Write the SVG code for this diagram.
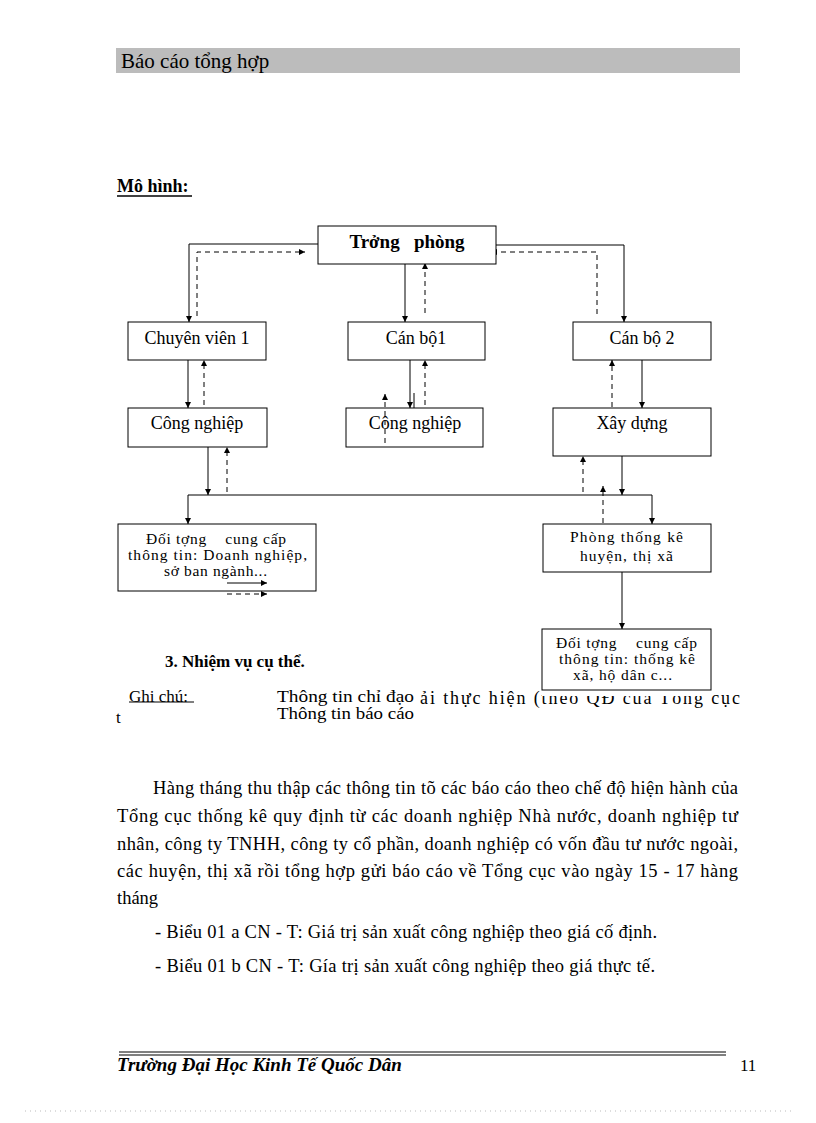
<svg xmlns="http://www.w3.org/2000/svg" width="816" height="1123" viewBox="0 0 816 1123">
<defs>
<marker id="ah" viewBox="0 0 8 8" refX="8" refY="4" markerWidth="6" markerHeight="6" markerUnits="userSpaceOnUse" orient="auto">
<path d="M0,0 L8,4 L0,8 z" fill="#000"/>
</marker>
</defs>
<style>
.box{fill:#fff;stroke:#000;stroke-width:1}
.t{font-family:"Liberation Serif","Times New Roman",serif;fill:#000}
.lbl{font-size:18px;text-anchor:middle}
.sm{font-size:15.5px}
.body{font-size:18.5px}
.s{fill:none;stroke:#000;stroke-width:1}
.d{fill:none;stroke:#000;stroke-width:1;stroke-dasharray:5 4}
</style>
<rect width="816" height="1123" fill="#fff"/>

<g id="header">
<rect x="116" y="48" width="624" height="25" fill="#bcbcbc"/>
<text class="t" x="121" y="68" font-size="21">Báo cáo tổng hợp</text>
</g>

<g id="title">
<text class="t" x="117" y="192" font-size="18" font-weight="bold">Mô hình:</text>
<line x1="117" y1="196" x2="192" y2="196" stroke="#000" stroke-width="1.3"/>
</g>

<g id="connectors">
<path class="s" d="M318,244 H189 V322" marker-end="url(#ah)"/>
<path class="d" d="M197,316 V252 H305" marker-end="url(#ah)"/>
<path class="s" d="M405,264 V322" marker-end="url(#ah)"/>
<path class="d" d="M425,313 V263" marker-end="url(#ah)"/>
<path class="s" d="M496,245 H624 V322" marker-end="url(#ah)"/>
<path class="d" d="M597,314 V252 H491" marker-end="url(#ah)"/>
<path class="s" d="M188,360 V408" marker-end="url(#ah)"/>
<path class="d" d="M204,405 V360" marker-end="url(#ah)"/>
<path class="s" d="M410,360 V408" marker-end="url(#ah)"/>
<path class="d" d="M425,405 V360" marker-end="url(#ah)"/>
<path class="s" d="M414,393 V408"/>
<path class="s" d="M642,360 V408" marker-end="url(#ah)"/>
<path class="d" d="M612,407 V360" marker-end="url(#ah)"/>
<path class="s" d="M208,447 V495" marker-end="url(#ah)"/>
<path class="d" d="M227,492 V447" marker-end="url(#ah)"/>
<path class="s" d="M622,456 V495" marker-end="url(#ah)"/>
<path class="d" d="M583,492 V456" marker-end="url(#ah)"/>
<path class="s" d="M652,495 H188 V524" marker-end="url(#ah)"/>
<path class="s" d="M652,495 V524" marker-end="url(#ah)"/>
<path class="d" d="M603,523 V486" marker-end="url(#ah)"/>
<path class="s" d="M622,572 V629" marker-end="url(#ah)"/>
<path class="d" d="M227,594 H267" marker-end="url(#ah)"/>
</g>

<g id="truong-phong">
<rect class="box" x="318" y="226" width="178" height="38"/>
<text class="t" x="407" y="248" font-size="19" font-weight="bold" text-anchor="middle" xml:space="preserve">Trởng   phòng</text>
</g>

<g id="chuyen-vien-1">
<rect class="box" x="128" y="322" width="138" height="38"/>
<text class="t lbl" x="197" y="344">Chuyên viên 1</text>
</g>

<g id="can-bo-1">
<rect class="box" x="348" y="322" width="137" height="38"/>
<text class="t lbl" x="416" y="344">Cán bộ1</text>
</g>

<g id="can-bo-2">
<rect class="box" x="573" y="322" width="138" height="38"/>
<text class="t lbl" x="642" y="344">Cán bộ 2</text>
</g>

<g id="cong-nghiep-1">
<rect class="box" x="128" y="408" width="139" height="39"/>
<text class="t lbl" x="197" y="429">Công nghiệp</text>
</g>

<g id="cong-nghiep-2">
<rect class="box" x="346" y="408" width="137" height="39"/>
<text class="t lbl" x="415" y="429">Công nghiệp</text>
</g>
<path class="d" d="M385,443 V394" marker-end="url(#ah)"/>

<g id="xay-dung">
<rect class="box" x="553" y="408" width="158" height="48"/>
<text class="t lbl" x="632" y="429">Xây dựng</text>
</g>

<g id="doi-tuong-1">
<rect class="box" x="118" y="524" width="198" height="67"/>
<text class="t sm" x="146" y="544" textLength="140" lengthAdjust="spacing" xml:space="preserve">Đối tợng    cung cấp</text>
<text class="t sm" x="128" y="560" textLength="179" lengthAdjust="spacing">thông tin: Doanh nghiệp,</text>
<text class="t sm" x="164" y="576" textLength="103" lengthAdjust="spacing">sở ban ngành...</text>
</g>
<path class="s" d="M227,583 H267" marker-end="url(#ah)"/>

<g id="phong-thong-ke">
<rect class="box" x="543" y="524" width="168" height="48"/>
<text class="t sm" x="570" y="542" textLength="113" lengthAdjust="spacing">Phòng thống kê</text>
<text class="t sm" x="580" y="561" textLength="93" lengthAdjust="spacing">huyện, thị xã</text>
</g>

<g id="text-notes">
<text class="t" x="165" y="667" font-size="17" font-weight="bold">3. Nhiệm vụ cụ thể.</text>
<text class="t" x="129" y="702" font-size="17">Ghi chú:</text>
<line x1="129" y1="702" x2="194" y2="702" stroke="#000" stroke-width="1"/>
<text class="t" x="277" y="702" font-size="16.5" textLength="137" lengthAdjust="spacingAndGlyphs">Thông tin chỉ đạo</text>
<text class="t" x="277" y="719" font-size="16.5" textLength="137" lengthAdjust="spacingAndGlyphs">Thông tin báo cáo</text>
<text class="t" x="420" y="704" font-size="18" textLength="320" lengthAdjust="spacing">ải thực hiện (theo QĐ của Tổng cục</text>
<text class="t" x="116" y="723" font-size="17">t</text>
</g>

<g id="doi-tuong-2">
<rect x="542" y="629" width="169" height="67" fill="#fff"/>
<rect class="box" x="542" y="629" width="169" height="61"/>
<text class="t sm" x="556" y="648" textLength="141" lengthAdjust="spacing" xml:space="preserve">Đối tợng    cung cấp</text>
<text class="t sm" x="559" y="664" textLength="136" lengthAdjust="spacing">thông tin: thống kê</text>
<text class="t sm" x="573" y="680" textLength="99" lengthAdjust="spacing">xã, hộ dân c...</text>
</g>

<g id="body">
<text class="t body" x="153" y="794" textLength="585" lengthAdjust="spacing">Hàng tháng thu thập các thông tin tõ các báo cáo theo chế độ hiện hành của</text>
<text class="t body" x="117" y="822" textLength="621" lengthAdjust="spacing">Tổng cục thống kê quy định từ các doanh nghiệp Nhà nước, doanh nghiệp tư</text>
<text class="t body" x="117" y="850" textLength="621" lengthAdjust="spacing">nhân, công ty TNHH, công ty cổ phần, doanh nghiệp có vốn đầu tư nước ngoài,</text>
<text class="t body" x="117" y="877" textLength="621" lengthAdjust="spacing">các huyện, thị xã rồi tổng hợp gửi báo cáo về Tổng cục vào ngày 15 - 17 hàng</text>
<text class="t body" x="117" y="904">tháng</text>
<text class="t body" x="155" y="938" textLength="502" lengthAdjust="spacing">- Biểu 01 a CN - T: Giá trị sản xuất công nghiệp theo giá cố định.</text>
<text class="t body" x="155" y="972" textLength="500" lengthAdjust="spacing">- Biểu 01 b CN - T: Gía trị sản xuất công nghiệp theo giá thực tế.</text>
</g>

<g id="footer">
<line x1="119" y1="1052" x2="726" y2="1052" stroke="#000" stroke-width="1"/>
<line x1="119" y1="1055" x2="726" y2="1055" stroke="#000" stroke-width="1"/>
<text class="t" x="117" y="1071" font-size="19" font-weight="bold" font-style="italic">Trường Đại Học Kinh Tế Quốc Dân</text>
<text class="t" x="740" y="1071" font-size="17">11</text>
<line x1="25" y1="1111" x2="792" y2="1111" stroke="#bbb" stroke-width="1" stroke-dasharray="1 4"/>
</g>
</svg>
